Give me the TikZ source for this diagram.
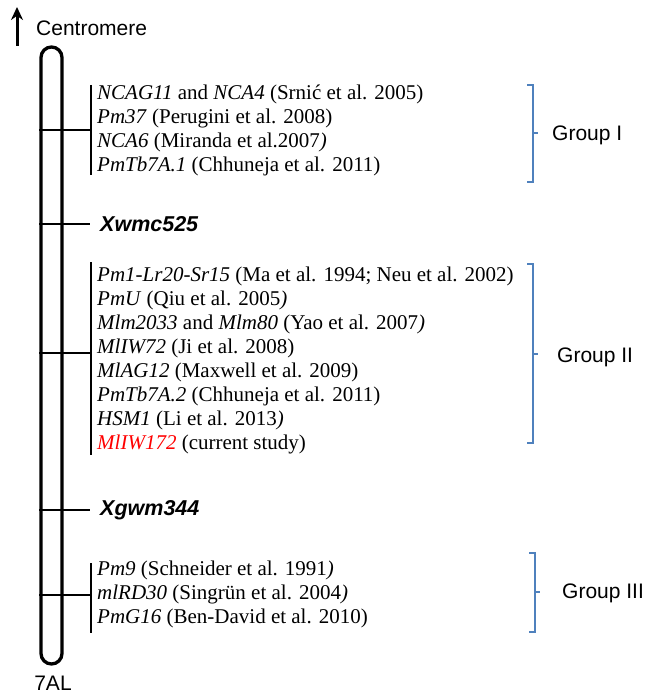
\documentclass[tikz,border=0pt]{standalone}
\usepackage{fontspec}
\setmainfont{Liberation Serif}
\setsansfont{Liberation Sans}
\usetikzlibrary{arrows.meta}
\definecolor{brblue}{HTML}{4F81BD}
\definecolor{newred}{HTML}{FF0000}
\begin{document}
\begin{tikzpicture}[x=1pt,y=-1pt,
  reftext/.style={font=\fontsize{21}{24}\selectfont, align=left, anchor=west, inner sep=0pt},
  markertext/.style={font=\fontsize{21.5}{24}\selectfont\sffamily\bfseries\itshape, anchor=west, inner sep=0pt},
  grptext/.style={font=\fontsize{21}{24}\selectfont\sffamily, anchor=west, inner sep=0pt},
  plaintext/.style={font=\fontsize{21}{24}\selectfont\sffamily, inner sep=0pt},
  tickline/.style={line width=1.5pt},
  barline/.style={line width=1.3pt},
  brk/.style={brblue, line width=1.5pt}]
\useasboundingbox (0,0) rectangle (653,695);

% chromosome
\node[draw, line width=3.3pt, rounded corners=10.5pt, minimum width=21pt, minimum height=617pt, inner sep=0pt] (chr) at (51.5,355.5) {};

% centromere arrow
\coordinate (arrS) at (17,46);
\coordinate (arrE) at (17,7);
\draw[line width=3pt, -{Stealth[length=13pt,width=12pt]}] (arrS) -- (arrE);
\node[plaintext, anchor=west] (cen) at (36,28) {Centromere};
\node[plaintext] (arm) at (53,683) {7AL};

% group bars
\coordinate (b1t) at (91,85);  \coordinate (b1b) at (91,175); \coordinate (b1m) at (91,130);
\coordinate (b2t) at (91,262); \coordinate (b2b) at (91,455); \coordinate (b2m) at (91,353);
\coordinate (b3t) at (91,563); \coordinate (b3b) at (91,633); \coordinate (b3m) at (91,595);
\draw[barline] (b1t) -- (b1b);
\draw[barline] (b2t) -- (b2b);
\draw[barline] (b3t) -- (b3b);
\draw[tickline] (chr.west |- b1m) -- (b1m);
\draw[tickline] (chr.west |- b2m) -- (b2m);
\draw[tickline] (chr.west |- b3m) -- (b3m);

% markers
\node[markertext] (xw) at (100,224) {Xwmc525};
\node[markertext] (xg) at (100,510) {Xgwm344};
\draw[tickline] (chr.west |- xw.west) -- ([xshift=-10pt]xw.west);
\draw[tickline] (chr.west |- xg.west) -- ([xshift=-10pt]xg.west);

% gene lists
\node[reftext] (g1) at (97,130) {\textit{NCAG11} and \textit{NCA4} (Srni\'c et al. 2005)\\
\textit{Pm37} (Perugini et al. 2008)\\
\textit{NCA6} (Miranda et al.2007\textit{)}\\
\textit{PmTb7A.1} (Chhuneja et al. 2011)};

\node[reftext] (g2) at (97,360) {\textit{Pm1-Lr20-Sr15} (Ma et al. 1994; Neu et al. 2002)\\
\textit{PmU} (Qiu et al. 2005\textit{)}\\
\textit{Mlm2033} and \textit{Mlm80} (Yao et al. 2007\textit{)}\\
\textit{MlIW72} (Ji et al. 2008)\\
\textit{MlAG12} (Maxwell et al. 2009)\\
\textit{PmTb7A.2} (Chhuneja et al. 2011)\\
\textit{HSM1} (Li et al. 2013\textit{)}\\
\textcolor{newred}{\textit{MlIW172}} (current study)};

\node[reftext] (g3) at (97,594) {\textit{Pm9} (Schneider et al. 1991\textit{)}\\
\textit{mlRD30} (Singr\"un et al. 2004\textit{)}\\
\textit{PmG16} (Ben-David et al. 2010)};

% blue brackets
\coordinate (r1t) at (533,85);  \coordinate (r1b) at (533,182); \coordinate (r1m) at (533,133);
\coordinate (r2t) at (533,264); \coordinate (r2b) at (533,443); \coordinate (r2m) at (533,354);
\coordinate (r3t) at (535,553); \coordinate (r3b) at (535,632); \coordinate (r3m) at (535,592);
\draw[brk] ([xshift=-6pt]r1t) -- (r1t) -- (r1b) -- ([xshift=-6pt]r1b);
\draw[brk] (r1m) -- ([xshift=5pt]r1m);
\draw[brk] ([xshift=-6pt]r2t) -- (r2t) -- (r2b) -- ([xshift=-6pt]r2b);
\draw[brk] (r2m) -- ([xshift=5pt]r2m);
\draw[brk] ([xshift=-6pt]r3t) -- (r3t) -- (r3b) -- ([xshift=-6pt]r3b);
\draw[brk] (r3m) -- ([xshift=5pt]r3m);

\node[grptext] (G1) at (552,135) {Group I};
\node[grptext] (G2) at (557,357) {Group II};
\node[grptext] (G3) at (562,593) {Group III};
\end{tikzpicture}
\end{document}
